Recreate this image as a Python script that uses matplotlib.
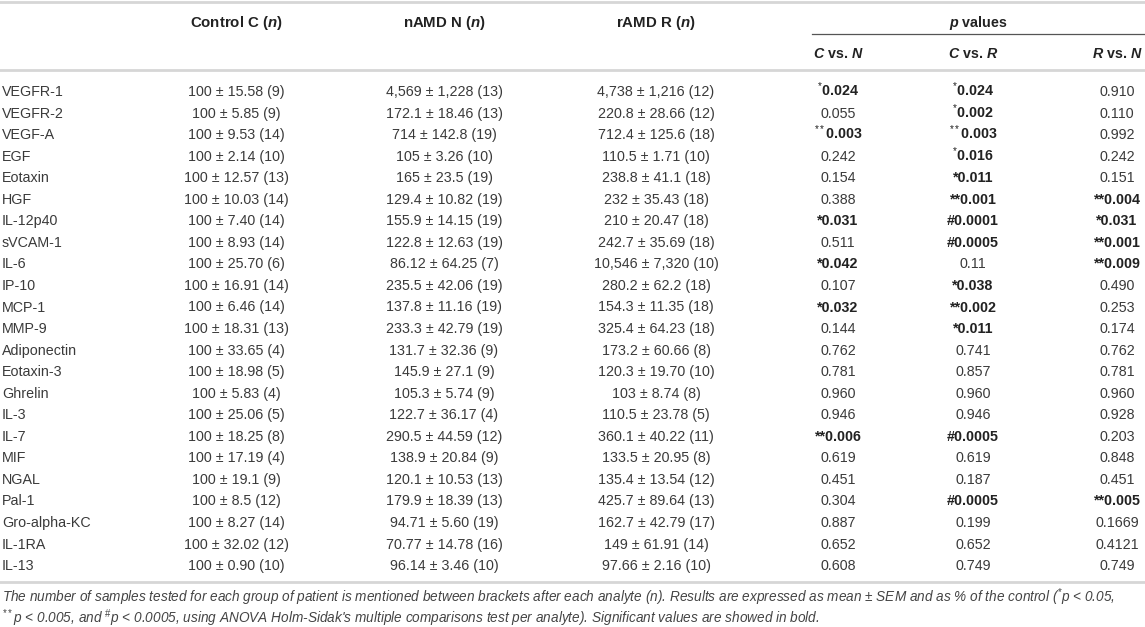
import matplotlib.pyplot as plt

plt.rcParams['font.family'] = 'Liberation Sans'
plt.rcParams['mathtext.fontset'] = 'custom'
plt.rcParams['mathtext.rm'] = 'Liberation Sans'
plt.rcParams['mathtext.it'] = 'Liberation Sans:italic:bold'
plt.rcParams['mathtext.bf'] = 'Liberation Sans:bold'

# table content (values as printed, mean ± SEM (n))
analytes = ['VEGFR-1', 'VEGFR-2', 'VEGF-A', 'EGF', 'Eotaxin', 'HGF', 'IL-12p40',
            'sVCAM-1', 'IL-6', 'IP-10', 'MCP-1', 'MMP-9', 'Adiponectin', 'Eotaxin-3',
            'Ghrelin', 'IL-3', 'IL-7', 'MIF', 'NGAL', 'Pal-1', 'Gro-alpha-KC',
            'IL-1RA', 'IL-13']
control = ['100 ± 15.58 (9)', '100 ± 5.85 (9)', '100 ± 9.53 (14)', '100 ± 2.14 (10)',
           '100 ± 12.57 (13)', '100 ± 10.03 (14)', '100 ± 7.40 (14)', '100 ± 8.93 (14)',
           '100 ± 25.70 (6)', '100 ± 16.91 (14)', '100 ± 6.46 (14)', '100 ± 18.31 (13)',
           '100 ± 33.65 (4)', '100 ± 18.98 (5)', '100 ± 5.83 (4)', '100 ± 25.06 (5)',
           '100 ± 18.25 (8)', '100 ± 17.19 (4)', '100 ± 19.1 (9)', '100 ± 8.5 (12)',
           '100 ± 8.27 (14)', '100 ± 32.02 (12)', '100 ± 0.90 (10)']
namd = ['4,569 ± 1,228 (13)', '172.1 ± 18.46 (13)', '714 ± 142.8 (19)', '105 ± 3.26 (10)',
        '165 ± 23.5 (19)', '129.4 ± 10.82 (19)', '155.9 ± 14.15 (19)', '122.8 ± 12.63 (19)',
        '86.12 ± 64.25 (7)', '235.5 ± 42.06 (19)', '137.8 ± 11.16 (19)', '233.3 ± 42.79 (19)',
        '131.7 ± 32.36 (9)', '145.9 ± 27.1 (9)', '105.3 ± 5.74 (9)', '122.7 ± 36.17 (4)',
        '290.5 ± 44.59 (12)', '138.9 ± 20.84 (9)', '120.1 ± 10.53 (13)', '179.9 ± 18.39 (13)',
        '94.71 ± 5.60 (19)', '70.77 ± 14.78 (16)', '96.14 ± 3.46 (10)']
ramd = ['4,738 ± 1,216 (12)', '220.8 ± 28.66 (12)', '712.4 ± 125.6 (18)', '110.5 ± 1.71 (10)',
        '238.8 ± 41.1 (18)', '232 ± 35.43 (18)', '210 ± 20.47 (18)', '242.7 ± 35.69 (18)',
        '10,546 ± 7,320 (10)', '280.2 ± 62.2 (18)', '154.3 ± 11.35 (18)', '325.4 ± 64.23 (18)',
        '173.2 ± 60.66 (8)', '120.3 ± 19.70 (10)', '103 ± 8.74 (8)', '110.5 ± 23.78 (5)',
        '360.1 ± 40.22 (11)', '133.5 ± 20.95 (8)', '135.4 ± 13.54 (12)', '425.7 ± 89.64 (13)',
        '162.7 ± 42.79 (17)', '149 ± 61.91 (14)', '97.66 ± 2.16 (10)']
# '^' = superscript mark, leading * or # = bold with inline mark
p_cn = ['^*0.024', '0.055', '^**0.003', '0.242', '0.154', '0.388', '*0.031', '0.511',
        '*0.042', '0.107', '*0.032', '0.144', '0.762', '0.781', '0.960', '0.946',
        '**0.006', '0.619', '0.451', '0.304', '0.887', '0.652', '0.608']
p_cr = ['^*0.024', '^*0.002', '^**0.003', '^*0.016', '*0.011', '**0.001', '#0.0001',
        '#0.0005', '0.11', '*0.038', '**0.002', '*0.011', '0.741', '0.857', '0.960',
        '0.946', '#0.0005', '0.619', '0.187', '#0.0005', '0.199', '0.652', '0.749']
p_rn = ['0.910', '0.110', '0.992', '0.242', '0.151', '**0.004', '*0.031', '**0.001',
        '**0.009', '0.490', '0.253', '0.174', '0.762', '0.781', '0.960', '0.928',
        '0.203', '0.848', '0.451', '**0.005', '0.1669', '0.4121', '0.749']

W, H = 1145, 627
fig = plt.figure(figsize=(W / 100, H / 100), dpi=100)
ax = fig.add_axes([0, 0, 1, 1])
ax.set_xlim(0, W)
ax.set_ylim(H, 0)
ax.axis('off')

txt = '#3a3a3a'
fs = 10.3
col_x = [236, 444, 656, 838, 973, 1117]

# rules
ax.plot([0, W], [2, 2], color='#d6d6d6', lw=2)
ax.plot([0, W], [70, 70], color='#d6d6d6', lw=2)
ax.plot([0, W], [582, 582], color='#d6d6d6', lw=2)
ax.plot([812, W], [34, 34], color='#555555', lw=0.9)

# headers
for x, lab in zip(col_x[:3], ['Control C ($n$)', 'nAMD N ($n$)', 'rAMD R ($n$)']):
    ax.text(x, 27, lab, ha='center', va='baseline', fontsize=10.8, fontweight='bold', color='#222222')
ax.text(978, 27, '$p$ values', ha='center', va='baseline', fontsize=fs, fontweight='bold', color='#222222')
for x, lab in zip(col_x[3:], ['$C$ vs. $N$', '$C$ vs. $R$', '$R$ vs. $N$']):
    ax.text(x, 58, lab, ha='center', va='baseline', fontsize=fs, fontweight='bold', color='#222222')


def p_cell(x, y, s):
    if s.startswith('^'):
        num = s.lstrip('^*#')
        marks = s[1:len(s) - len(num)].replace('#', r'\#')
        ax.text(x, y, '$^{' + marks + '}$' + num, ha='center', va='baseline',
                fontsize=fs, fontweight='bold', color='#222222')
    elif s[0] in '*#':
        ax.text(x, y, s, ha='center', va='baseline', fontsize=fs,
                fontweight='bold', color='#222222')
    else:
        ax.text(x, y, s, ha='center', va='baseline', fontsize=fs, color=txt)


y0, dy = 91, 21.55
for i, name in enumerate(analytes):
    yb = y0 + i * dy + 5
    ax.text(2, yb, name, ha='left', va='baseline', fontsize=fs, color=txt)
    for x, col in zip(col_x[:3], [control, namd, ramd]):
        ax.text(x, yb, col[i], ha='center', va='baseline', fontsize=fs, color=txt)
    for x, col in zip(col_x[3:], [p_cn, p_cr, p_rn]):
        p_cell(x, yb, col[i])

note1 = ("The number of samples tested for each group of patient is mentioned between brackets "
         "after each analyte (n). Results are expressed as mean ± SEM and as % of the control "
         "($^{*}$p < 0.05,")
note2 = (r"$^{**}$p < 0.005, and $^{\#}$p < 0.0005, using ANOVA Holm-Sidak's multiple comparisons "
         "test per analyte). Significant values are showed in bold.")
ax.text(2, 602, note1, ha='left', va='baseline', fontsize=9.8, style='italic', color='#444444')
ax.text(2, 623, note2, ha='left', va='baseline', fontsize=9.8, style='italic', color='#444444')

fig.savefig('out.png', dpi=100)
